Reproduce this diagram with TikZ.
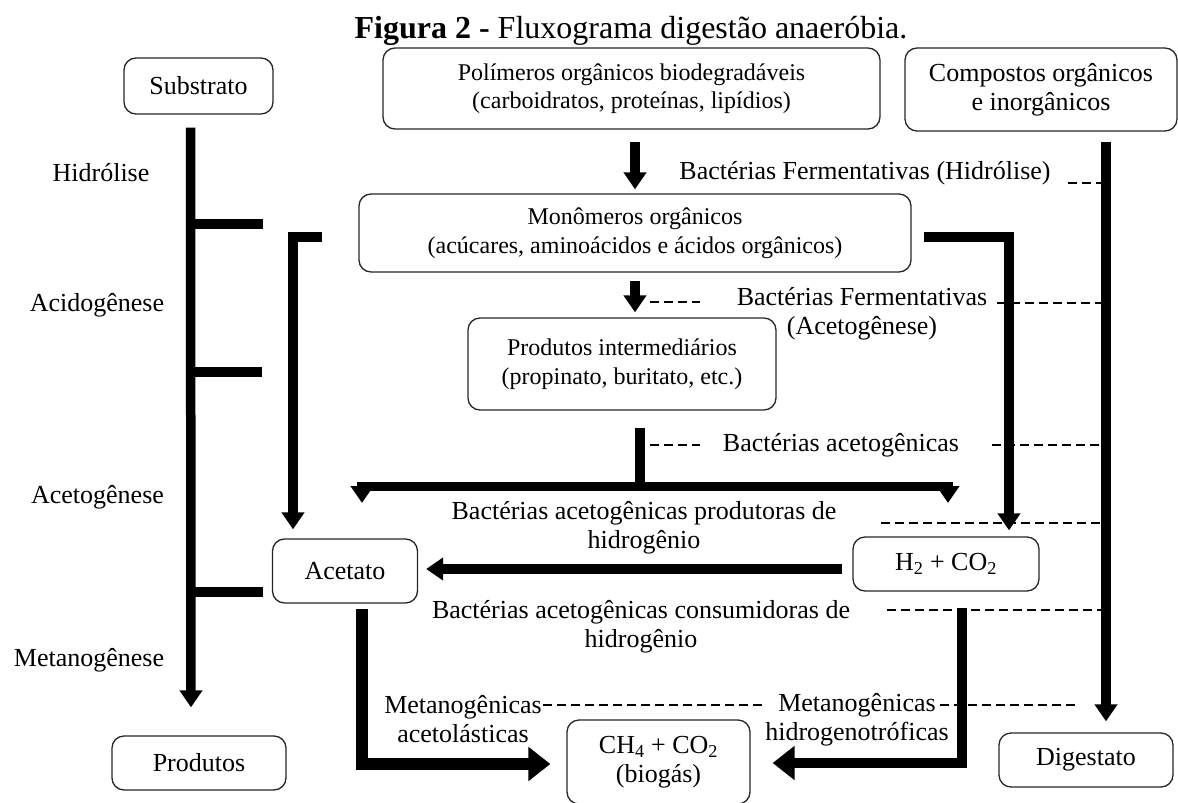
\documentclass[tikz,border=0pt]{standalone}
\usepackage{fontspec}
\setmainfont{Liberation Serif}
\usetikzlibrary{arrows.meta}
\newcommand{\lblfont}{\fontsize{26}{29}\selectfont}
\newcommand{\boxfont}{\fontsize{24}{28.5}\selectfont}
\tikzstyle{stage} = [rectangle, rounded corners=12pt, draw=black!85, line width=1.3pt, align=center, inner sep=0pt, font=\lblfont]
\tikzstyle{lbl} = [align=center, inner sep=0pt, font=\lblfont]
\tikzstyle{bar} = [line width=9.5pt]
\tikzstyle{flow} = [line width=9.5pt, -{Triangle[width=22pt,length=17pt]}]
\tikzstyle{flowbig} = [line width=12pt, -{Triangle[width=33pt,length=22pt]}]
\tikzstyle{link} = [line width=1.6pt, dash pattern=on 9pt off 5pt]

\begin{document}
\begin{tikzpicture}[x=1pt,y=-1pt]
    \useasboundingbox (0,0) rectangle (1178,803);
    \clip (0,0) rectangle (1178,803);

    \node (title) [lbl, font=\fontsize{32}{36}\selectfont, anchor=base] at (631,38) {\textbf{Figura 2 -} Fluxograma digestão anaeróbia.};

    \node (sub) [stage, minimum width=149pt, minimum height=56pt] at (198.5,86) {Substrato};
    \node (poly) [stage, minimum width=497pt, minimum height=81pt, font=\boxfont] at (631.5,88.5) {Polímeros orgânicos biodegradáveis\\(carboidratos, proteínas, lipídios)};
    \node (comp) [stage, minimum width=272pt, minimum height=83pt] at (1041,89.5) {Compostos orgânicos\\e inorgânicos};
    \node (mono) [stage, minimum width=552pt, minimum height=78pt, font=\boxfont] at (635,233) {Monômeros orgânicos\\(acúcares, aminoácidos e ácidos orgânicos)};
    \node (inter) [stage, minimum width=308pt, minimum height=92pt, font=\boxfont] at (622,364) {Produtos intermediários\\(propinato, buritato, etc.)};
    \node (acet) [stage, minimum width=145pt, minimum height=64pt] at (345,571) {Acetato};
    \node (htwo) [stage, minimum width=186pt, minimum height=54pt] at (946,564) {H\textsubscript{2} + CO\textsubscript{2}};
    \node (prod) [stage, minimum width=174pt, minimum height=54pt] at (199,763) {Produtos};
    \node (ch4) [stage, minimum width=183pt, minimum height=84pt] at (658.5,762) {CH\textsubscript{4} + CO\textsubscript{2}\\(biogás)};
    \node (dig) [stage, minimum width=174pt, minimum height=54pt] at (1086,760) {Digestato};

    \node (hid) [lbl] at (101,173) {Hidrólise};
    \node (acid) [lbl] at (97,305) {Acidogênese};
    \node (acetg) [lbl] at (97.5,497) {Acetogênese};
    \node (metg) [lbl] at (89,660) {Metanogênese};

    \node (bfh) [lbl] at (865,173) {Bactérias Fermentativas (Hidrólise)};
    \node (bfa) [lbl] at (862,314) {Bactérias Fermentativas\\(Acetogênese)};
    \node (bac) [lbl] at (841,445) {Bactérias acetogênicas};
    \node (bapr) [lbl] at (644,528) {Bactérias acetogênicas produtoras de\\hidrogênio};
    \node (baco) [lbl] at (641,627) {Bactérias acetogênicas consumidoras de\\hidrogênio};
    \node (mac) [lbl] at (463,719) {Metanogênicas\\acetolásticas};
    \node (mhy) [lbl] at (857,720) {Metanogênicas\\hidrogenotróficas};

    \coordinate (lv) at ([xshift=-8pt,yshift=-13pt]sub.south);
    \coordinate (rv) at ([xshift=65pt,yshift=-10pt]comp.south);
    \coordinate (lA) at ([xshift=-36pt,yshift=-4pt]mono.west);
    \coordinate (lB) at ([xshift=-52pt,yshift=9pt]acet.north);
    \coordinate (split) at ([xshift=18pt,yshift=-76pt]inter.south);
    \coordinate (sl) at (362,503);
    \coordinate (sr) at (948,503);

    \draw [link] (1068,183) -- (rv |- 0,183);
    \draw [link] (650,302) -- (700,302);
    \draw [link] (997,303) -- (rv |- 0,303);
    \draw [link] (650,445) -- (700,445);
    \draw [link] (992,445) -- (rv |- 0,445);
    \draw [link] (881,523) -- (rv |- 0,523);
    \draw [link] (887,610) -- (rv |- 0,610);
    \draw [link] (543,705) -- (763,705);
    \draw [link] (940,705) -- (1076,705);

    \draw [flow] (lv) -- ([xshift=-8pt,yshift=28pt]prod.north);
    \draw [bar] (lv |- 0,224) -- (263,224);
    \draw [bar] (lv |- 0,372) -- (262,372);
    \draw [bar] (lv |- 0,592) -- (263,592);
    \draw [flow] (lA) -- (lA -| lB) -- (lB);
    \draw [flow] (rv) -- ([xshift=20pt,yshift=11pt]dig.north);
    \draw [flow] ([xshift=3.5pt,yshift=-12pt]poly.south) -- ([yshift=4pt]mono.north);
    \draw [flow] ([yshift=-8pt]mono.south) -- ([xshift=13pt,yshift=5pt]inter.north);
    \draw [flow] ([xshift=12pt,yshift=-4pt]mono.east) -| ([xshift=63pt,yshift=6pt]htwo.north);
    \draw [bar] ([xshift=18pt,yshift=-17pt]inter.south) -- (split);
    \draw [flow] (split) -| (sl);
    \draw [flow] (split) -| (sr);
    \draw [flow] ([xshift=-10pt,yshift=-5pt]htwo.west) -- ([xshift=8pt,yshift=2pt]acet.east);
    \draw [flowbig] ([xshift=17pt,yshift=-5pt]acet.south) |- ([xshift=-16pt,yshift=-2pt]ch4.west);
    \draw [flowbig, line width=10pt] ([xshift=16pt,yshift=-16pt]htwo.south) |- ([xshift=22pt,yshift=-1pt]ch4.east);
\end{tikzpicture}
\end{document}
